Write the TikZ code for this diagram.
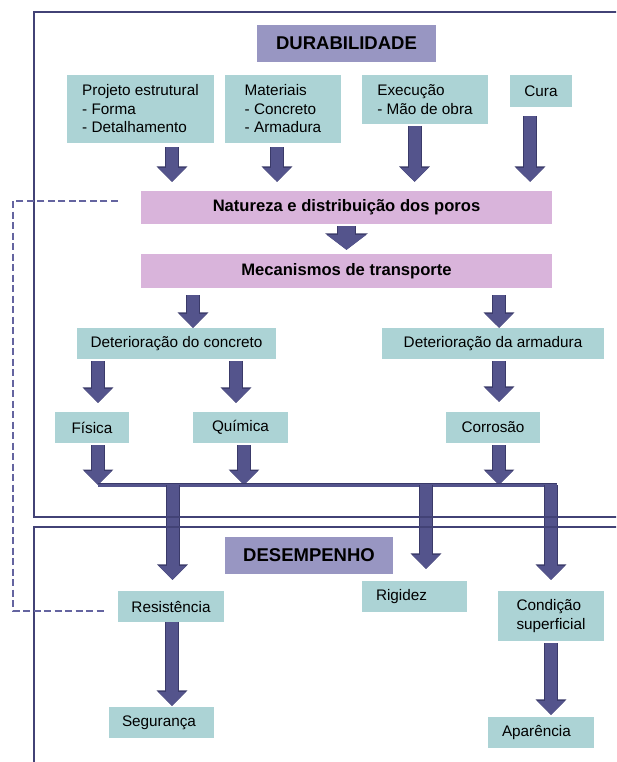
\documentclass[tikz,border=0pt]{standalone}
\usepackage{fontspec}
\setmainfont{Liberation Sans}
\usetikzlibrary{arrows.meta}

\definecolor{boxteal}{RGB}{172,211,213}
\definecolor{boxpink}{RGB}{217,180,219}
\definecolor{boxhead}{RGB}{152,150,194}
\definecolor{arrowfill}{RGB}{84,84,140}
\definecolor{arrowedge}{RGB}{58,58,105}
\definecolor{framecol}{RGB}{66,66,118}
\definecolor{linkcol}{RGB}{100,100,160}

\begin{document}
\begin{tikzpicture}[
        x=1pt, y=-1pt,
        every node/.style={inner sep=0pt, font=\fontsize{15.3}{18.5}\selectfont},
        factorbox/.style={fill=boxteal, align=left},
        stagebox/.style={fill=boxpink, font=\fontsize{16.6}{19}\selectfont\bfseries},
        headbox/.style={fill=boxhead, font=\fontsize{18.5}{21}\selectfont\bfseries},
        bigarrow/.style={draw=arrowfill, line width=12pt, -{Triangle[length=14pt,width=27pt]},
            preaction={draw=arrowedge, line width=14pt, -{Triangle[length=15.5pt,width=30pt]}}},
        stubarrow/.style={draw=arrowfill, line width=17pt, -{Triangle[length=15pt,width=39pt]},
            preaction={draw=arrowedge, line width=19pt, -{Triangle[length=16.5pt,width=42pt]}}},
        barline/.style={draw=arrowfill, line width=3pt, preaction={draw=arrowedge, line width=4.5pt}},
        boxline/.style={draw=framecol, line width=2pt},
        poroslink/.style={draw=linkcol, line width=1.5pt, dash pattern=on 7pt off 3.5pt}
    ]
        \clip (0,0) rectangle (616,762);

        \node[headbox, minimum width=179pt, minimum height=37pt] (dur) at (346.5,43.5) {DURABILIDADE};

        \node[factorbox, minimum width=147pt, minimum height=68pt] (proj) at (140.5,109) {Projeto estrutural\\- Forma\\- Detalhamento};
        \node[factorbox, minimum width=116pt, minimum height=68pt] (mat) at (283,109) {Materiais\\- Concreto\\- Armadura};
        \node[factorbox, minimum width=126pt, minimum height=49pt] (exec) at (425,99.5) {Execução\\- Mão de obra};
        \node[factorbox, minimum width=62pt, minimum height=32pt] (cura) at (541,91) {Cura};

        \node[stagebox, minimum width=411pt, minimum height=33pt] (nat) at (346.5,207.5) {Natureza e distribuição dos poros};
        \node[stagebox, minimum width=411pt, minimum height=34pt] (mec) at (346.5,271) {Mecanismos de transporte};

        \node[factorbox, minimum width=199pt, minimum height=31pt] (detc) at (176.5,343.5) {Deterioração do concreto};
        \node[factorbox, minimum width=222pt, minimum height=31pt] (deta) at (493,343.5) {Deterioração da armadura};

        \node[factorbox, minimum width=74pt, minimum height=31pt] (fis) at (92,427.5) {Física};
        \node[factorbox, minimum width=95pt, minimum height=31pt] (qui) at (240.5,427.5) {Química};
        \node[factorbox, minimum width=94pt, minimum height=31pt] (cor) at (493,427.5) {Corrosão};

        \node[headbox, minimum width=168pt, minimum height=37pt] (desemp) at (309,555.5) {DESEMPENHO};

        \node[factorbox, minimum width=106pt, minimum height=31pt] (res) at (171,606.5) {Resistência};
        \node[factorbox, minimum width=105pt, minimum height=31pt, text width=77pt] (rig) at (414.5,596.5) {Rigidez};
        \node[factorbox, minimum width=106pt, minimum height=50pt] (cond) at (551,616) {Condição\\superficial};
        \node[factorbox, minimum width=105pt, minimum height=31pt, text width=79pt] (seg) at (161.5,722.5) {Segurança};
        \node[factorbox, minimum width=106pt, minimum height=31pt, text width=78pt] (apar) at (541,732.5) {Aparência};

        \coordinate (barL) at (98,485);
        \coordinate (barR) at (557,485);

        \draw[bigarrow, shorten <=4pt, shorten >=9pt] ([xshift=31.5pt]proj.south) -- ([xshift=31.5pt]proj.south |- nat.north);
        \draw[bigarrow, shorten <=4pt, shorten >=9pt] ([xshift=-6pt]mat.south) -- ([xshift=-6pt]mat.south |- nat.north);
        \draw[bigarrow, shorten <=2pt, shorten >=9pt] ([xshift=-10.5pt]exec.south) -- ([xshift=-10.5pt]exec.south |- nat.north);
        \draw[bigarrow, shorten <=9pt, shorten >=9pt] ([xshift=-11pt]cura.south) -- ([xshift=-11pt]cura.south |- nat.north);

        \draw[stubarrow, shorten <=2pt, shorten >=4pt] (nat.south) -- (mec.north);

        \draw[bigarrow, shorten <=7pt] ([xshift=16.5pt]detc.north |- mec.south) -- ([xshift=16.5pt]detc.north);
        \draw[bigarrow, shorten <=7pt] ([xshift=6pt]deta.north |- mec.south) -- ([xshift=6pt]deta.north);

        \draw[bigarrow, shorten <=2pt, shorten >=9pt] ([xshift=6pt]fis.north |- detc.south) -- ([xshift=6pt]fis.north);
        \draw[bigarrow, shorten <=2pt, shorten >=9pt] ([xshift=-4.5pt]qui.north |- detc.south) -- ([xshift=-4.5pt]qui.north);
        \draw[bigarrow, shorten <=2pt, shorten >=10pt] ([xshift=6pt]cor.north |- deta.south) -- ([xshift=6pt]cor.north);

        \draw[bigarrow, shorten <=2pt] ([xshift=6pt]fis.south) -- ([xshift=6pt]fis.south |- barL);
        \draw[bigarrow, shorten <=2pt] ([xshift=3.5pt]qui.south) -- ([xshift=3.5pt]qui.south |- barL);
        \draw[bigarrow, shorten <=2pt] ([xshift=6pt]cor.south) -- ([xshift=6pt]cor.south |- barL);
        \draw[barline] (barL) -- (barR);

        \draw[bigarrow, shorten >=11pt] ([xshift=1.5pt]res.north |- barL) -- ([xshift=1.5pt]res.north);
        \draw[bigarrow, shorten >=12pt] ([xshift=11.5pt]rig.north |- barL) -- ([xshift=11.5pt]rig.north);
        \draw[bigarrow, shorten >=11pt] (cond.north |- barR) -- (cond.north);

        \draw[bigarrow, shorten >=1pt] ([xshift=1pt]res.south) -- ([xshift=1pt]res.south |- seg.north);
        \draw[bigarrow, shorten <=2pt, shorten >=2pt] (cond.south) -- (cond.south |- apar.north);

        \draw[boxline] (630,12) -- (34,12) -- (34,517) -- (630,517);
        \draw[boxline] (630,527) -- (34,527) -- (34,775);

        \draw[poroslink] ([shift={(-23pt,6.5pt)}]nat.west) -| (13,611) -- ([shift={(-11pt,-4.5pt)}]res.west);
    \end{tikzpicture}
\end{document}
